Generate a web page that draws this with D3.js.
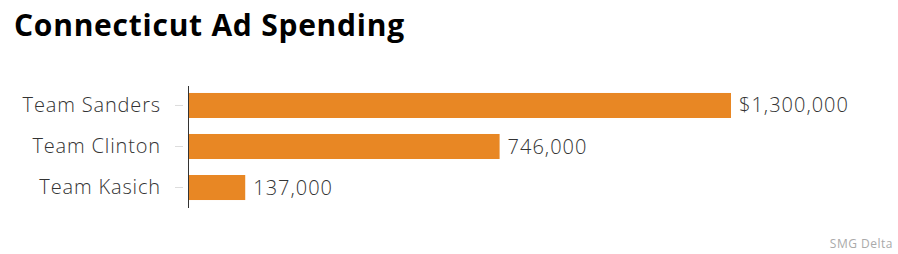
<!DOCTYPE html>
<html>
 <head>
   <meta charset="utf-8" />
   <title>Connecticut Ad Spending</title>
   <script src="https://cdn.jsdelivr.net/npm/d3@7/dist/d3.min.js"></script>
   <style>
     body { margin: 0; background: #fff; }
     text { font-family: "Open Sans", Lato, sans-serif; }
   </style>
 </head>

 <body>
   <script>
     var teams  = ["Team Sanders", "Team Clinton", "Team Kasich"];
     var spend  = [1300000, 746000, 137000];
     var labels = ["$1,300,000", "746,000", "137,000"];

     var width = 898, height = 254;
     var plotLeft = 188, plotTop = 86, plotBottom = 207;

     var svg = d3.select("body")
                 .append("svg")
                 .attr("width",  width)
                 .attr("height", height);

     svg.append("text")
        .attr("x", 14)
        .attr("y", 36)
        .attr("font-size", 30)
        .attr("font-weight", 700)
        .attr("letter-spacing", 0.75)
        .attr("fill", "#000")
        .text("Connecticut Ad Spending");

     var x = d3.scaleLinear()
               .domain([0, 1300000])
               .range([plotLeft, 731]);

     var y = d3.scaleBand()
               .domain(teams)
               .range([plotTop, plotBottom])
               .paddingInner(0.39)
               .paddingOuter(0.17);

     // bars
     svg.selectAll("rect.bar")
        .data(teams)
        .enter().append("rect")
        .attr("class", "bar")
        .attr("x", x(0))
        .attr("y", function(d) { return y(d); })
        .attr("width", function(d, i) { return x(spend[i]) - x(0); })
        .attr("height", y.bandwidth())
        .attr("fill", "#e88724");

     // value labels
     svg.selectAll("text.val")
        .data(teams)
        .enter().append("text")
        .attr("class", "val")
        .attr("x", function(d, i) { return x(spend[i]) + 8; })
        .attr("y", function(d) { return y(d) + y.bandwidth() / 2; })
        .attr("dy", "0.35em")
        .attr("font-size", 20)
        .attr("font-weight", 300)
        .attr("letter-spacing", 1)
        .attr("fill", "#333")
        .text(function(d, i) { return labels[i]; });

     // y axis
     var yAxis = svg.append("g")
        .attr("transform", "translate(" + plotLeft + ",0)")
        .call(d3.axisLeft(y).tickSize(13).tickPadding(14));

     yAxis.select(".domain")
          .attr("d", "M0.5," + plotTop + "V" + (plotBottom + 1))
          .attr("stroke", "#333");
     yAxis.selectAll(".tick line")
          .attr("x1", -5)
          .attr("x2", -13)
          .attr("stroke", "#ddd");
     yAxis.selectAll(".tick text")
          .attr("font-size", 20)
          .attr("font-weight", 300)
          .attr("letter-spacing", 0.85)
          .attr("fill", "#333")
          .attr("font-family", "'Open Sans', Lato, sans-serif")
          .attr("x", -27);

     svg.append("text")
        .attr("x", 893)
        .attr("y", 248)
        .attr("text-anchor", "end")
        .attr("font-size", 12)
        .attr("letter-spacing", 0.5)
        .attr("fill", "#aaa")
        .text("SMG Delta");
   </script>
 </body>
</html>
